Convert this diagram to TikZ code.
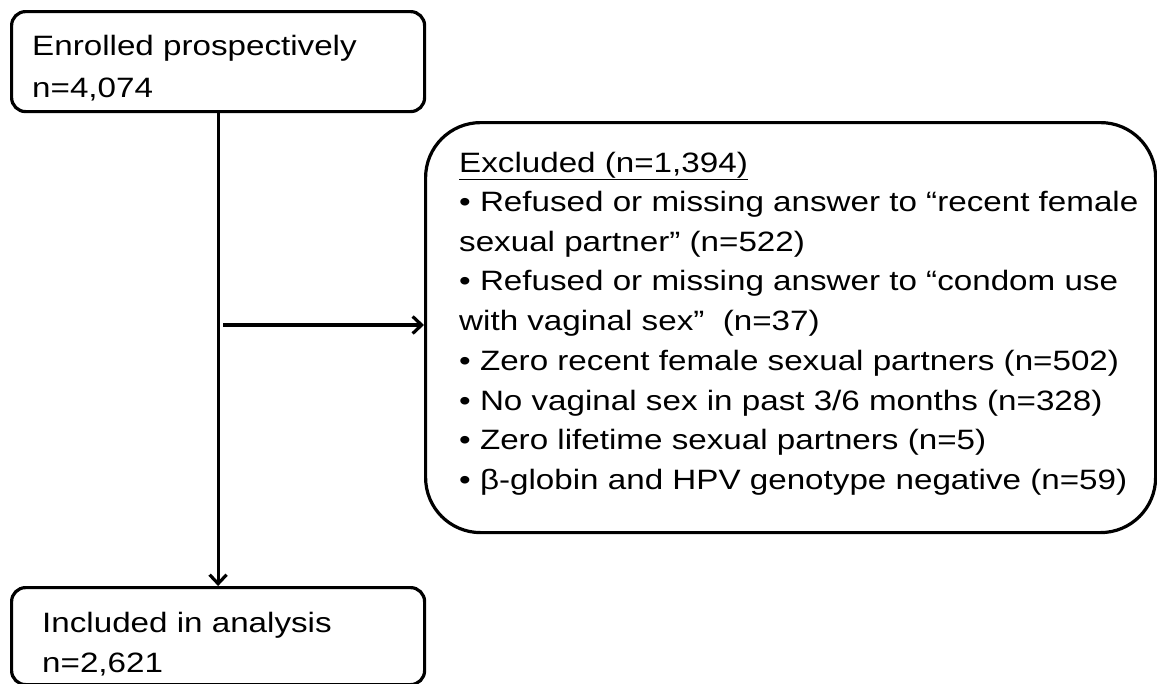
\documentclass[tikz,border=0pt]{standalone}
\usepackage{fontspec}
\setmainfont{Liberation Sans}[FakeStretch=1.185]
\usetikzlibrary{arrows.meta}
\begin{document}
\begin{tikzpicture}[x=1pt,y=-1pt,
  box/.style={draw=black, line width=3.2pt, inner sep=0pt, anchor=north west},
  txt/.style={anchor=base west, inner sep=0pt, font=\fontsize{28}{40}\selectfont, text=black},
  conn/.style={draw=black, line width=3.2pt, -{Straight Barb[length=9pt,width=17pt,line width=3.2pt]}}]
\useasboundingbox (0,0) rectangle (1157,683);
% boxes
\node[box, rounded corners=14pt, minimum width=413pt, minimum height=100pt] (enr) at (10,10) {};
\node[box, rounded corners=14pt, minimum width=413pt, minimum height=97pt] (inc) at (10,586) {};
\node[box, rounded corners=55pt, minimum width=730pt, minimum height=410pt] (exc) at (424,121) {};
% texts
\node[txt] (e1) at (32,55) {Enrolled prospectively};
\node[txt] (e2) at (32,97) {n=4,074};
\node[txt] (i1) at (42,632) {Included in analysis};
\node[txt] (i2) at (42,672) {n=2,621};
\node[txt] (x0) at (459,172) {\underline{Excluded (n=1,394)}};
\node[txt] (x1) at (459,211.5) {• Refused or missing answer to “recent female};
\node[txt] (x2) at (459,251) {sexual partner” (n=522)};
\node[txt] (x3) at (459,290.5) {• Refused or missing answer to “condom use};
\node[txt] (x4) at (459,330) {with vaginal sex”~ (n=37)};
\node[txt] (x5) at (459,370) {• Zero recent female sexual partners (n=502)};
\node[txt] (x6) at (459,410) {• No vaginal sex in past 3/6 months (n=328)};
\node[txt] (x7) at (459,449.5) {• Zero lifetime sexual partners (n=5)};
\node[txt] (x8) at (459,489) {• β-globin and HPV genotype negative (n=59)};
% connectors
\draw[conn] (enr.south) -- (inc.north);
\coordinate (br) at (223,325);
\draw[conn] (br) -- (exc.west |- br);
\end{tikzpicture}
\end{document}
